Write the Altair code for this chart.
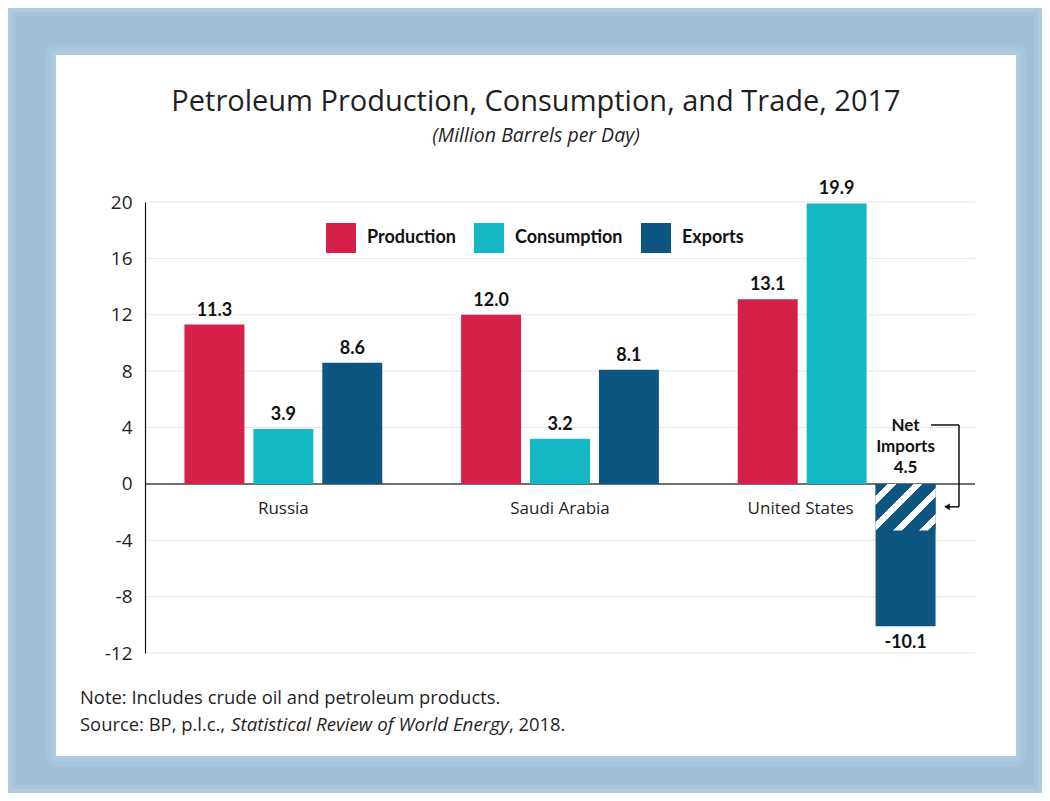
import math
import altair as alt
import pandas as pd

# ---------------- data ----------------
countries = ["Russia", "Saudi Arabia", "United States"]
series = ["Production", "Consumption", "Exports"]
production = [11.3, 12.0, 13.1]
consumption = [3.9, 3.2, 19.9]
exports = [8.6, 8.1, -10.1]
net_imports_text = ["Net", "Imports", "4.5"]
net_imports_hatch = -3.3          # depth of the hatched segment as drawn
y_ticks = [-12, -8, -4, 0, 4, 8, 12, 16, 20]

title_text = "Petroleum Production, Consumption, and Trade, 2017"
subtitle_text = "(Million Barrels per Day)"
note_text = "Note: Includes crude oil and petroleum products."
source_parts = ["Source: BP, p.l.c., ", "Statistical Review of World Energy", ", 2018."]

# ---------------- styles / layout ----------------
colors = ["#d61f49", "#16b7c4", "#0d5681"]
FONT = "Open Sans"
BOLD = "Lato"
TEXT = "#1f1f1f"
PLOT_W, PLOT_H = 830, 451
PAD = {"left": 137, "top": 194, "right": 67, "bottom": 140}

rows = []
for i, c in enumerate(countries):
    for s, vals in zip(series, [production, consumption, exports]):
        v = vals[i]
        rows.append({"country": c, "series": s, "value": v, "label": f"{v:.1f}"})
df = pd.DataFrame(rows)

x_enc = alt.X("country:N", sort=countries,
              scale=alt.Scale(domain=countries, paddingInner=0.285, paddingOuter=0.1426),
              axis=None)
xo_enc = alt.XOffset("series:N", sort=series,
                     scale=alt.Scale(domain=series, paddingInner=0.13, paddingOuter=0))
y_scale = alt.Scale(domain=[-12, 20], nice=False, zero=False)
y_enc = alt.Y("value:Q", scale=y_scale,
              axis=alt.Axis(values=y_ticks, title=None, ticks=False, domain=True,
                            domainColor="#111", domainWidth=1.2,
                            labelFont=FONT, labelFontSize=19, labelColor=TEXT,
                            labelExpr="replace(datum.label, '\u2212', '-')",
                            labelPadding=13, grid=False, zindex=1))

base = alt.Chart(df)
one = alt.Data(values=[{"a": 1}])

# soft frame glow (stacked translucent strokes) + white panel
def ring(x, x2, y, y2, width, color, opacity):
    return alt.Chart(one).mark_rect(filled=False, stroke=color, strokeWidth=width,
                                    strokeOpacity=opacity, strokeJoin="round").encode(
        x=alt.value(x), x2=alt.value(x2), y=alt.value(y), y2=alt.value(y2))

glows = [
    ring(-137, 897, -194, 591, 16, "#c4d9e9", 0.25),
    ring(-137, 897, -194, 591, 8, "#c4d9e9", 0.3),
    ring(-89, 871, -147, 554, 22, "#bdd5e7", 0.2),
    ring(-89, 871, -147, 554, 12, "#bdd5e7", 0.25),
    ring(-89, 871, -147, 554, 5, "#bdd5e7", 0.3),
]
panel = alt.Chart(one).mark_rect(color="white").encode(
    x=alt.value(-89), x2=alt.value(871), y=alt.value(-147), y2=alt.value(554))

grid = alt.Chart(pd.DataFrame({"value": y_ticks})).mark_rule(
    color="#e6e6e6", strokeWidth=1).encode(y=alt.Y("value:Q", scale=y_scale))

bars = base.mark_bar().encode(
    x=x_enc, xOffset=xo_enc, y=y_enc,
    color=alt.Color("series:N", sort=series,
                    scale=alt.Scale(domain=series, range=colors),
                    legend=alt.Legend(orient="none", legendX=181, legendY=21,
                                      direction="horizontal", title=None,
                                      symbolType="square", symbolSize=900,
                                      symbolStrokeWidth=0, symbolOpacity=1,
                                      labelFont=BOLD, labelFontWeight="bold",
                                      labelFontSize=18, labelColor="#111",
                                      labelOffset=11, columnPadding=18,
                                      padding=0)),
)

# hatched "net imports" segment using a striped linear gradient
def striped_gradient(base_color, stripe_color, periods, white_frac, phase):
    bounds = []
    for k in range(-2, int(math.ceil(periods)) + 3):
        a = (k + phase) / periods
        b = (k + phase + white_frac) / periods
        bounds.append((a, stripe_color))
        bounds.append((b, base_color))
    stops = []
    cur = base_color
    for off, col in sorted(bounds):
        if off <= 0:
            cur = col
            continue
        if off >= 1:
            break
        stops.append(alt.GradientStop(color=cur, offset=off))
        stops.append(alt.GradientStop(color=col, offset=off))
        cur = col
    stops = [alt.GradientStop(color=stops[0].color if stops else cur, offset=0)] + stops
    stops.append(alt.GradientStop(color=cur, offset=1))
    return alt.LinearGradient(gradient="linear", stops=stops,
                              x1=0, y1=0, x2=1.11, y2=0.85)

hatch_df = pd.DataFrame([{"country": countries[2], "series": series[2],
                          "value": net_imports_hatch}])
hatch = alt.Chart(hatch_df).mark_bar(
    fill=striped_gradient(colors[2], "#ffffff", 4.08, 0.35, 12 / 26)
).encode(x=x_enc, xOffset=xo_enc, y=alt.Y("value:Q", scale=y_scale))

zero_line = alt.Chart(one).mark_rule(
    color="#444", strokeWidth=1.5).encode(y=alt.datum(0))

lab_pos = base.transform_filter("datum.value > 0").mark_text(
    baseline="alphabetic", dy=-9, font=BOLD, fontWeight="bold",
    fontSize=18, color="#111").encode(x=x_enc, xOffset=xo_enc, y=y_enc, text="label:N")
lab_neg = base.transform_filter("datum.value < 0").mark_text(
    baseline="top", dy=8, font=BOLD, fontWeight="bold",
    fontSize=18, color="#111").encode(x=x_enc, xOffset=xo_enc, y=y_enc, text="label:N")

cat_df = pd.DataFrame({"country": countries, "value": [0] * 3})
cat_labels = alt.Chart(cat_df).transform_filter(
    alt.datum.country != countries[2]).mark_text(
    baseline="middle", dy=25, font=FONT, fontSize=17, color=TEXT
).encode(x=x_enc, y=alt.Y("value:Q", scale=y_scale), text="country:N")
# the last label is shifted left to clear the hatched bar
cat_label_us = alt.Chart(cat_df).transform_filter(
    alt.datum.country == countries[2]).mark_text(
    baseline="middle", dy=25, dx=-36, font=FONT, fontSize=17, color=TEXT
).encode(x=x_enc, y=alt.Y("value:Q", scale=y_scale), text="country:N")

net_df = pd.DataFrame([{"country": countries[2], "series": series[2],
                        "value": 0, "txt": "\n".join(net_imports_text)}])
net_text = alt.Chart(net_df).mark_text(
    baseline="alphabetic", dy=-53, font=BOLD, fontWeight="bold", fontSize=17,
    lineBreak="\n", lineHeight=21, color="#111"
).encode(x=x_enc, xOffset=xo_enc, y=alt.Y("value:Q", scale=y_scale), text="txt:N")

# bracket arrow (annotation geometry)
br1 = alt.Chart(one).mark_rule(color="#111", strokeWidth=1.5).encode(
    x=alt.value(786), x2=alt.value(814), y=alt.datum(4.18))
br2 = alt.Chart(one).mark_rule(color="#111", strokeWidth=1.5).encode(
    x=alt.value(814), y=alt.datum(4.18), y2=alt.datum(-1.63))
br3 = alt.Chart(one).mark_rule(color="#111", strokeWidth=1.5).encode(
    x=alt.value(803), x2=alt.value(814), y=alt.datum(-1.63))
arrow = alt.Chart(one).mark_point(shape="triangle-left", filled=True, size=45,
                                  color="#111", opacity=1).encode(
    x=alt.value(802), y=alt.datum(-1.63))

def txt(s, x, y, size, style="normal", align="center", weight="normal"):
    return alt.Chart(alt.Data(values=[{"t": s}])).mark_text(
        align=align, baseline="alphabetic", font=FONT, fontSize=size,
        fontStyle=style, fontWeight=weight, color=TEXT
    ).encode(x=alt.value(x), y=alt.value(y), text="t:N")

title = txt(title_text, 391, -91, 29)
subtitle = txt(subtitle_text, 391, -60, 19.5, style="italic")
note = txt(note_text, -65, 502, 18.4, align="left")
src1 = txt(source_parts[0], -65, 529, 18.4, align="left")
src2 = txt(source_parts[1], 86, 529, 18.8, style="italic", align="left")
src3 = txt(source_parts[2], 364, 529, 18.4, align="left")

chart = alt.layer(
    *glows, panel, grid, zero_line, bars, hatch, lab_pos, lab_neg,
    cat_labels, cat_label_us, net_text, br1, br2, br3, arrow,
    title, subtitle, note, src1, src2, src3
).properties(
    width=PLOT_W, height=PLOT_H,
    autosize=alt.AutoSizeParams(type="none"),
    padding=PAD,
    background="#9fbfd7",
).configure_view(stroke=None)

chart.save("out.html", embed_options={"renderer": "svg", "actions": False})
